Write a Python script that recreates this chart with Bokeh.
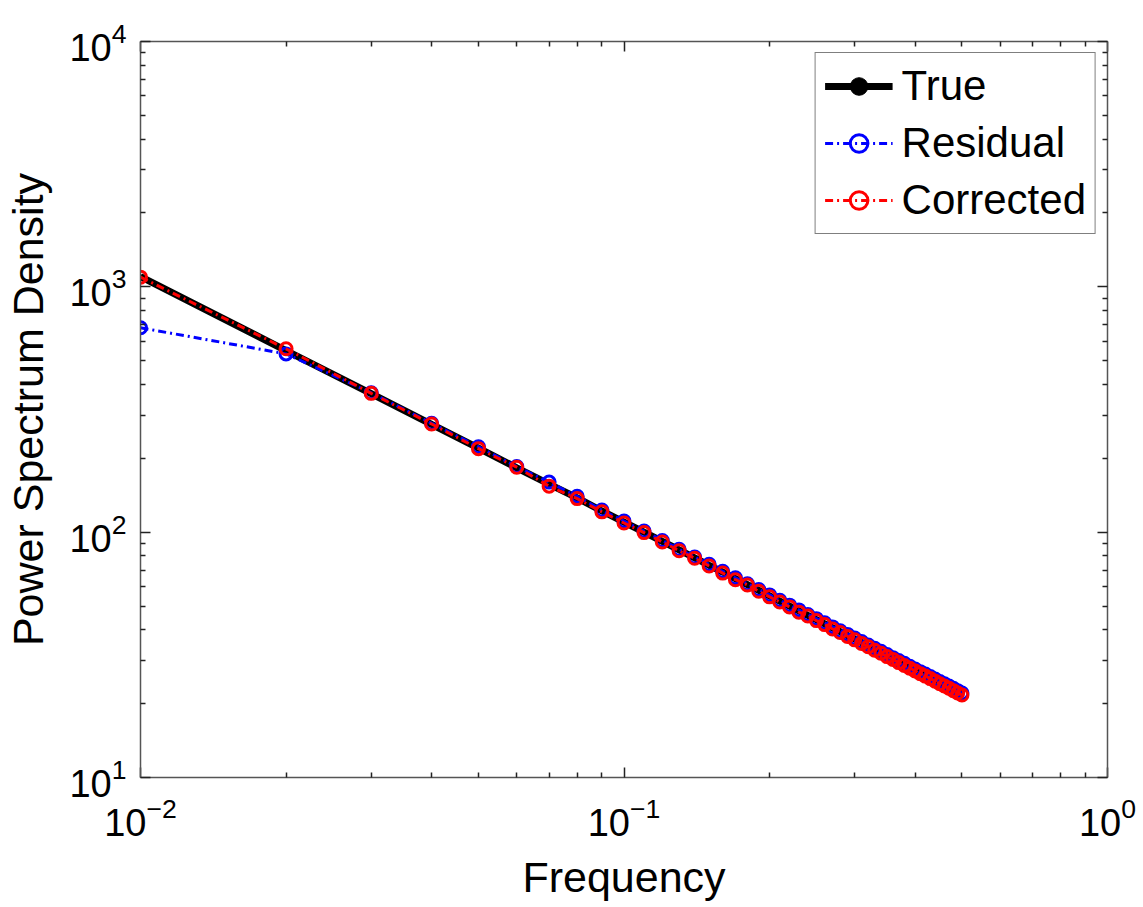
from bokeh.plotting import figure
from bokeh.models import LogAxis, FixedTicker, CustomJSTickFormatter, LogTickFormatter
from bokeh.embed import file_html
from bokeh.resources import INLINE

freq = [0.01, 0.02, 0.03, 0.04, 0.05, 0.06, 0.07, 0.08, 0.09, 0.10,
        0.11, 0.12, 0.13, 0.14, 0.15, 0.16, 0.17, 0.18, 0.19, 0.20,
        0.21, 0.22, 0.23, 0.24, 0.25, 0.26, 0.27, 0.28, 0.29, 0.30,
        0.31, 0.32, 0.33, 0.34, 0.35, 0.36, 0.37, 0.38, 0.39, 0.40,
        0.41, 0.42, 0.43, 0.44, 0.45, 0.46, 0.47, 0.48, 0.49, 0.50]

psd_true = [1100, 550, 367, 275, 220, 183, 157, 138, 122, 110,
            100, 91.7, 84.6, 78.6, 73.3, 68.8, 64.7, 61.1, 57.9, 55.0,
            52.4, 50.0, 47.8, 45.8, 44.0, 42.3, 40.7, 39.3, 37.9, 36.7,
            35.5, 34.4, 33.3, 32.4, 31.4, 30.6, 29.7, 28.9, 28.2, 27.5,
            26.8, 26.2, 25.6, 25.0, 24.4, 23.9, 23.4, 22.9, 22.4, 22.0]

psd_residual = [681, 533, 370, 278, 223, 185, 160, 140, 123, 111,
                101, 92.5, 85.2, 79.2, 74.0, 69.3, 65.2, 61.6, 58.4, 55.5,
                52.8, 50.4, 48.2, 46.2, 44.4, 42.7, 41.1, 39.6, 38.3, 37.0,
                35.8, 34.7, 33.6, 32.7, 31.7, 30.8, 30.0, 29.2, 28.4, 27.7,
                27.0, 26.4, 25.8, 25.2, 24.6, 24.1, 23.6, 23.1, 22.6, 22.1]

psd_corrected = [1095, 559, 368, 276, 219, 184, 154, 137, 121, 109,
                 99.6, 91.2, 84.0, 78.3, 72.8, 68.1, 64.0, 60.9, 57.4, 54.5,
                 51.9, 49.6, 47.2, 45.5, 43.6, 42.0, 40.3, 39.0, 37.6, 36.4,
                 35.2, 34.1, 33.0, 32.1, 31.1, 30.3, 29.4, 28.6, 27.9, 27.2,
                 26.5, 25.9, 25.3, 24.7, 24.1, 23.6, 23.1, 22.6, 22.1, 21.7]

x_major = [0.01, 0.1, 1.0]
x_minor = [0.02, 0.03, 0.04, 0.05, 0.06, 0.07, 0.08, 0.09,
           0.2, 0.3, 0.4, 0.5, 0.6, 0.7, 0.8, 0.9]
y_major = [10, 100, 1000, 10000]
y_minor = [20, 30, 40, 50, 60, 70, 80, 90,
           200, 300, 400, 500, 600, 700, 800, 900,
           2000, 3000, 4000, 5000, 6000, 7000, 8000, 9000]

FONT = "Liberation Sans"

p = figure(width=1143, height=907, x_axis_type="log", y_axis_type="log",
           x_range=(0.01, 1.0), y_range=(10, 1e4),
           output_backend="svg", toolbar_location=None,
           min_border_left=140, min_border_right=36,
           min_border_top=41, min_border_bottom=130)

p.grid.visible = False
p.outline_line_color = None
p.background_fill_color = "white"
p.border_fill_color = "white"

# True
p.line(freq, psd_true, line_color="black", line_width=7, legend_label="True")
p.scatter(freq, psd_true, marker="circle", size=4, fill_color="black",
          line_color="black", legend_label="True")

# Residual
p.line(freq, psd_residual, line_color="blue", line_width=3,
       line_dash="8 4 2 4", legend_label="Residual")
p.scatter(freq, psd_residual, marker="circle", size=12, fill_color=None,
          line_color="blue", line_width=3, legend_label="Residual")

# Corrected
p.line(freq, psd_corrected, line_color="red", line_width=3,
       line_dash="8 4 2 4", legend_label="Corrected")
p.scatter(freq, psd_corrected, marker="circle", size=12, fill_color=None,
          line_color="red", line_width=3, legend_label="Corrected")

xb = p.below[0]
yl = p.left[0]
empty = CustomJSTickFormatter(code="return ''")
xt = LogAxis(formatter=empty)
yr = LogAxis(formatter=empty)
p.add_layout(xt, "above")
p.add_layout(yr, "right")

xtick = FixedTicker(ticks=x_major, minor_ticks=x_minor)
ytick = FixedTicker(ticks=y_major, minor_ticks=y_minor)
xb.ticker = xtick
xt.ticker = xtick
yl.ticker = ytick
yr.ticker = ytick
xb.formatter = LogTickFormatter()
yl.formatter = LogTickFormatter()

for ax in (xb, xt, yl, yr):
    ax.axis_line_color = "#555555"
    ax.axis_line_width = 1.5
    ax.major_tick_in = 10
    ax.major_tick_out = 0
    ax.minor_tick_in = 5
    ax.minor_tick_out = 0
    ax.major_tick_line_color = "#222222"
    ax.minor_tick_line_color = "#222222"
    ax.major_tick_line_width = 1.5
    ax.minor_tick_line_width = 1.5
    ax.major_label_text_font = FONT
    ax.major_label_text_font_size = "38px"
    ax.major_label_text_color = "black"
    ax.axis_label_text_font = FONT
    ax.axis_label_text_font_size = "43px"
    ax.axis_label_text_font_style = "normal"
    ax.axis_label_text_color = "black"

xt.major_label_standoff = 0
yr.major_label_standoff = 0

xb.axis_label = "Frequency"
yl.axis_label = "Power Spectrum Density"
xb.major_label_standoff = 19
xb.axis_label_standoff = 14
yl.major_label_standoff = 14
yl.axis_label_standoff = 14

lg = p.legend[0]
lg.location = "top_right"
lg.margin = 11
lg.padding = 9
lg.spacing = 9
lg.glyph_width = 68
lg.glyph_height = 44
lg.label_height = 44
lg.label_standoff = 9
lg.label_text_font = FONT
lg.label_text_font_size = "42px"
lg.label_text_color = "black"
lg.border_line_color = "black"
lg.border_line_width = 1.5
lg.background_fill_color = "white"
lg.background_fill_alpha = 1.0

open("out.html", "w").write(file_html(p, INLINE))
